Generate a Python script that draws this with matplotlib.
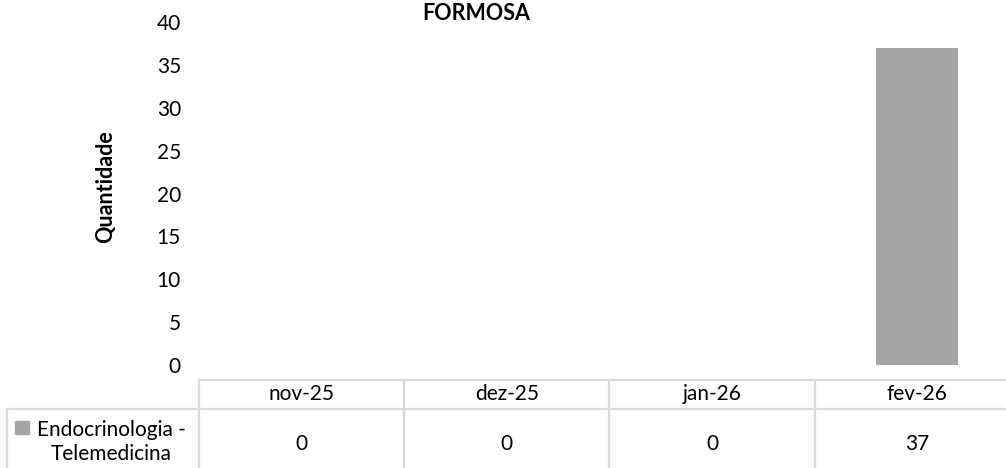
import matplotlib
matplotlib.use("Agg")
import matplotlib.pyplot as plt
from matplotlib.patches import Rectangle

plt.rcParams['font.family'] = ['Lato', 'DejaVu Sans']

categories = ['nov-25', 'dez-25', 'jan-26', 'fev-26']
values = [0, 0, 0, 37]
series_name = 'Endocrinologia -\nTelemedicina'
title = 'FORMOSA'
y_ticks = [0, 5, 10, 15, 20, 25, 30, 35, 40]

W, H = 1006, 468
bar_color = '#a5a5a5'
grid_color = '#d9d9d9'
fs = 15

fig = plt.figure(figsize=(W / 100, H / 100), dpi=100)

# plot area, in pixels from the top-left corner
left, right, top, bottom = 199, 1020, 22, 365
ax = fig.add_axes([left / W, 1 - bottom / H, (right - left) / W, (bottom - top) / H])
x = list(range(len(categories)))
ax.bar(x, values, width=0.4, color=bar_color)
ax.set_xlim(-0.5, len(categories) - 0.5)
ax.set_ylim(0, 40)
ax.set_yticks(y_ticks)
ax.set_yticklabels([str(t) for t in y_ticks], fontsize=fs)
ax.set_xticks([])
ax.tick_params(axis='y', length=0, pad=13)
for s in ax.spines.values():
    s.set_visible(False)
ax.set_ylabel('Quantidade', fontsize=15.5, fontweight='bold')
ax.yaxis.set_label_coords(-0.101, 0.52)
fig.text(476 / W, 1 - 14 / H, title, ha='center', va='center',
         fontsize=15.5, fontweight='bold')

# data table below the plot, drawn on an overlay in pixel coordinates
ov = fig.add_axes([0, 0, 1, 1])
ov.set_xlim(0, W)
ov.set_ylim(H, 0)
ov.axis('off')
ov.patch.set_alpha(0)

fig.canvas.draw()
edges = []
for i in range(len(categories) + 1):
    px = ax.transData.transform((i - 0.5, 0))[0]
    edges.append(px)

row_top, row_mid, row_bot = 380, 409, H + 10
lw = 1.6
ov.plot([edges[0], W], [row_top, row_top], color=grid_color, lw=lw)
ov.plot([7, W], [row_mid, row_mid], color=grid_color, lw=lw)
ov.plot([7, 7], [row_mid, row_bot], color=grid_color, lw=lw)
for e in edges[:-1]:
    ov.plot([e, e], [row_top, row_bot], color=grid_color, lw=lw)

for i, (c, v) in enumerate(zip(categories, values)):
    cx = (edges[i] + edges[i + 1]) / 2
    ov.text(cx, 394, c, ha='center', va='center', fontsize=fs)
    ov.text(cx, 444, str(v), ha='center', va='center', fontsize=fs)

ov.add_patch(Rectangle((15, 421), 14, 13, color=bar_color))
ov.text(111, 442, series_name, ha='center', va='center', fontsize=fs,
        linespacing=1.2)

fig.savefig('out.png', dpi=100)
